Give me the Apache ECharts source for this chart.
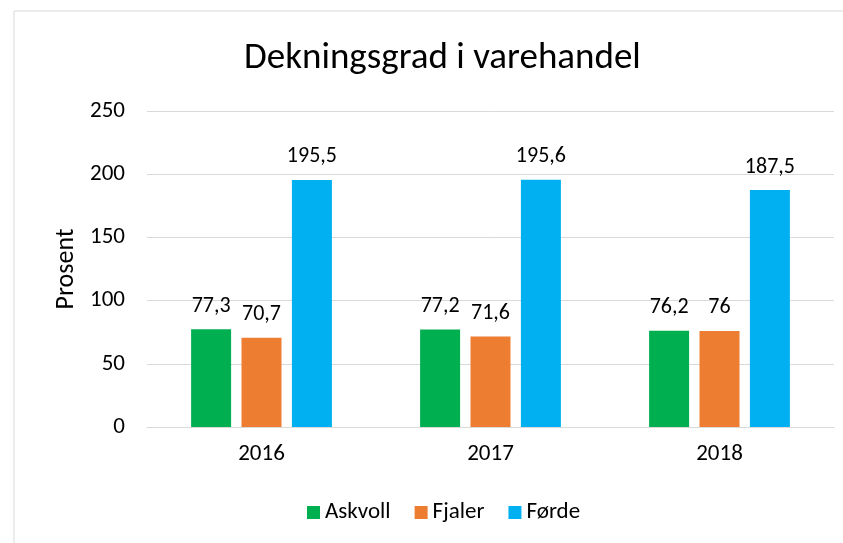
<!DOCTYPE html>
<html>
<head>
<meta charset="utf-8">
<script src="https://cdn.jsdelivr.net/npm/echarts@6/dist/echarts.min.js"></script>
<style>
  html, body { margin: 0; padding: 0; background: #fff; }
  #container { width: 843px; height: 543px; }
</style>
</head>
<body>
<div id="container"></div>
<script>
var years = ['2016', '2017', '2018'];
var askvoll = [77.3, 77.2, 76.2];
var fjaler = [70.7, 71.6, 76];
var forde = [195.5, 195.6, 187.5];

var font = 'Calibri, Carlito, "Open Sans", "Noto Sans", sans-serif';

function fmt(v) {
    return String(v.value).replace('.', ',');
}

var myChart = echarts.init(document.getElementById('container'));

var labelStyle = {
    show: true,
    position: 'top',
    distance: 12,
    color: '#000',
    fontSize: 22,
    fontFamily: font,
    formatter: fmt
};

option = {
    animation: false,
    textStyle: { fontFamily: font },
    graphic: [{
        type: 'rect',
        shape: { x: 14, y: 11, width: 840, height: 540 },
        style: { fill: 'none', stroke: '#d9d9d9', lineWidth: 1 },
        silent: true
    }],
    title: {
        text: 'Dekningsgrad i varehandel',
        left: 239,
        top: 35,
        textStyle: { fontSize: 37, fontWeight: 'normal', color: '#000', fontFamily: font }
    },
    legend: {
        data: ['Askvoll', 'Fjaler', 'Førde'],
        bottom: 14,
        left: 302,
        itemWidth: 13,
        itemHeight: 13,
        itemGap: 24,
        icon: 'rect',
        textStyle: { fontSize: 23, color: '#000', fontFamily: font }
    },
    grid: {
        left: 147,
        right: 9,
        top: 111,
        bottom: 116
    },
    xAxis: {
        type: 'category',
        data: years,
        axisTick: { show: false },
        axisLine: { lineStyle: { color: '#d9d9d9' } },
        axisLabel: { color: '#000', fontSize: 23, margin: 16, fontFamily: font }
    },
    yAxis: {
        type: 'value',
        min: 0,
        max: 250,
        interval: 50,
        name: 'Prosent',
        nameLocation: 'middle',
        nameGap: 68,
        nameTextStyle: { color: '#000', fontSize: 26, fontFamily: font },
        axisLine: { show: false },
        axisTick: { show: false },
        splitLine: { lineStyle: { color: '#d9d9d9' } },
        axisLabel: { color: '#000', fontSize: 23, margin: 22, fontFamily: font }
    },
    series: [{
        name: 'Askvoll',
        type: 'bar',
        data: askvoll,
        barWidth: 40,
        barGap: '26%',
        itemStyle: { color: '#00B050' },
        label: labelStyle
    }, {
        name: 'Fjaler',
        type: 'bar',
        data: fjaler,
        barWidth: 40,
        barGap: '26%',
        itemStyle: { color: '#ED7D31' },
        label: labelStyle
    }, {
        name: 'Førde',
        type: 'bar',
        data: forde,
        barWidth: 40,
        barGap: '26%',
        itemStyle: { color: '#00B0F0' },
        label: labelStyle
    }]
};

myChart.setOption(option);
</script>
</body>
</html>
